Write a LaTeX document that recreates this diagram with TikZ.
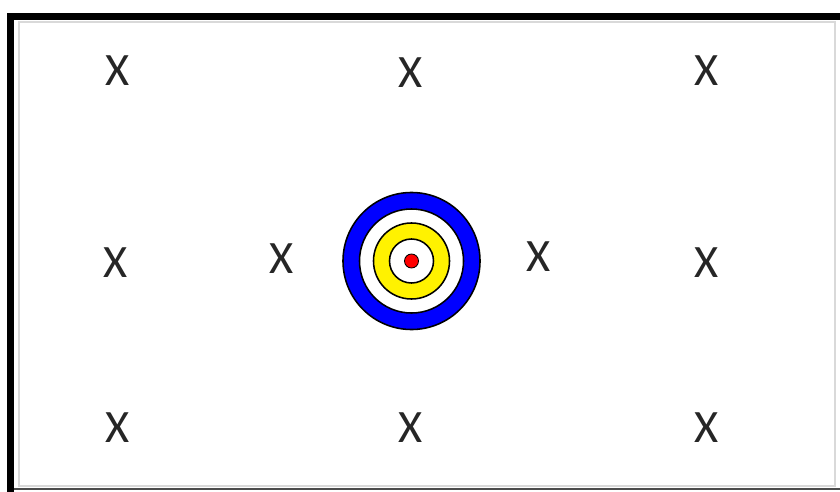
\documentclass[tikz,border=0pt]{standalone}
\usepackage{fontspec}
\setmainfont{Carlito}
\usetikzlibrary{positioning}
\tikzset{
  mark label/.style={font=\fontsize{33}{33}\selectfont, inner sep=0pt, text=black!85},
  ring/.style={circle, draw=black, line width=1.1pt, inner sep=0pt},
}

\begin{document}
\begin{tikzpicture}[x=0.025cm, y=-0.025cm]
  \useasboundingbox (0,0) rectangle (840,492);
  % frame
  \draw[black!15, line width=1.2pt] (19,22) rectangle (835,486);
  \draw[black!70, line width=1.5pt] (14,489) -- (840,489);
  \draw[black, line width=5pt] (10.5,492) -- (10.5,16.5) -- (840,16.5);

  % target
  \node[ring, fill=blue, minimum size=3.425cm] (blue) at (411.5,261) {};
  \node[ring, fill=white, minimum size=2.6cm] (gap) at (blue.center) {};
  \node[ring, fill=yellow, minimum size=1.9cm] (yel) at (blue.center) {};
  \node[ring, fill=white, minimum size=1.1cm] (inner) at (blue.center) {};
  \node[ring, fill=red, line width=0.6pt, minimum size=0.35cm] (bull) at (blue.center) {};

  % marks
  \node[mark label] (tl) at (118,71) {X};
  \node[mark label] (tc) at (411,73) {X};
  \node[mark label] (tr) at (707,71) {X};
  \node[mark label] (ml) at (116,263) {X};
  \node[mark label] (mi) at (282,259) {X};
  \node[mark label] (mr) at (539,257) {X};
  \node[mark label] (me) at (707,263) {X};
  \node[mark label] (bl) at (118,428) {X};
  \node[mark label] (bc) at (411,428) {X};
  \node[mark label] (br) at (707,428) {X};
\end{tikzpicture}
\end{document}
